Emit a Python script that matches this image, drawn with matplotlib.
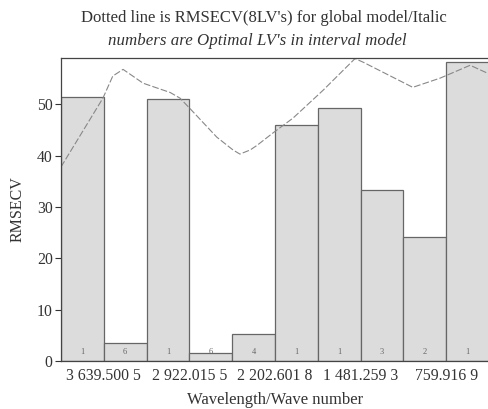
import matplotlib
matplotlib.use("Agg")
import matplotlib.pyplot as plt
import numpy as np

plt.rcParams['font.family'] = ['Liberation Serif', 'DejaVu Serif']

# Data
bar_heights = [51.4, 3.6, 51.1, 1.5, 5.2, 45.9, 49.2, 33.3, 24.1, 58.2]
optimal_lvs = ['1', '6', '1', '6', '4', '1', '1', '3', '2', '1']
tick_labels = ['3 639.500 5', '2 922.015 5', '2 202.601 8', '1 481.259 3', '759.916 9']
tick_pos = [1, 3, 5, 7, 9]

line_x = [0.0, 0.98, 1.21, 1.45, 1.92, 2.55, 2.78, 3.01, 3.64, 4.02, 4.18, 4.42,
          4.58, 4.95, 5.42, 6.12, 6.87, 7.06, 8.22, 8.86, 9.56, 9.98]
line_y = [37.8, 51.2, 55.5, 56.8, 54.1, 52.3, 51.2, 49.2, 43.6, 41.1, 40.3, 41.1,
          42.0, 44.4, 47.3, 52.7, 58.9, 58.2, 53.3, 55.1, 57.6, 56.0]

fig = plt.figure(figsize=(4.88, 4.09), dpi=100)
ax = fig.add_axes([0.125, 0.1174, 0.877, 0.7406])

x = np.arange(len(bar_heights)) + 0.5
ax.bar(x, bar_heights, width=1.0, color='#dcdcdc', edgecolor='#666666', linewidth=0.9)
for xi, lab in zip(x, optimal_lvs):
    ax.text(xi, 1.8, lab, ha='center', va='center', fontsize=6, color='#666666')

ax.plot(line_x, line_y, color='#888888', lw=0.8, linestyle=(0, (6, 2)))

ax.set_xlim(0, 10)
ax.set_ylim(0, 59)
ax.set_xticks(tick_pos)
ax.set_xticklabels(tick_labels, fontsize=11.3, color='#333333')
ax.tick_params(axis='x', length=0, pad=5)
ax.set_yticks([0, 10, 20, 30, 40, 50])
ax.tick_params(axis='y', labelsize=11.3, length=4, width=0.8, colors='#333333', pad=2)
ax.spines['right'].set_visible(False)
for s in ['left', 'bottom', 'top']:
    ax.spines[s].set_color('#444444')
    ax.spines[s].set_linewidth(0.9)

ax.set_ylabel('RMSECV', fontsize=11.5, color='#333333', labelpad=8)
ax.set_xlabel('Wavelength/Wave number', fontsize=12, color='#333333', labelpad=5.5)

fig.text(0.541, 0.957, "Dotted line is RMSECV(8LV's) for global model/Italic",
         ha='center', va='center', fontsize=12, color='#333333')
fig.text(0.527, 0.899, "numbers are Optimal LV's in interval model",
         ha='center', va='center', fontsize=12.2, color='#333333', style='italic')

fig.savefig('out.png', dpi=100)
